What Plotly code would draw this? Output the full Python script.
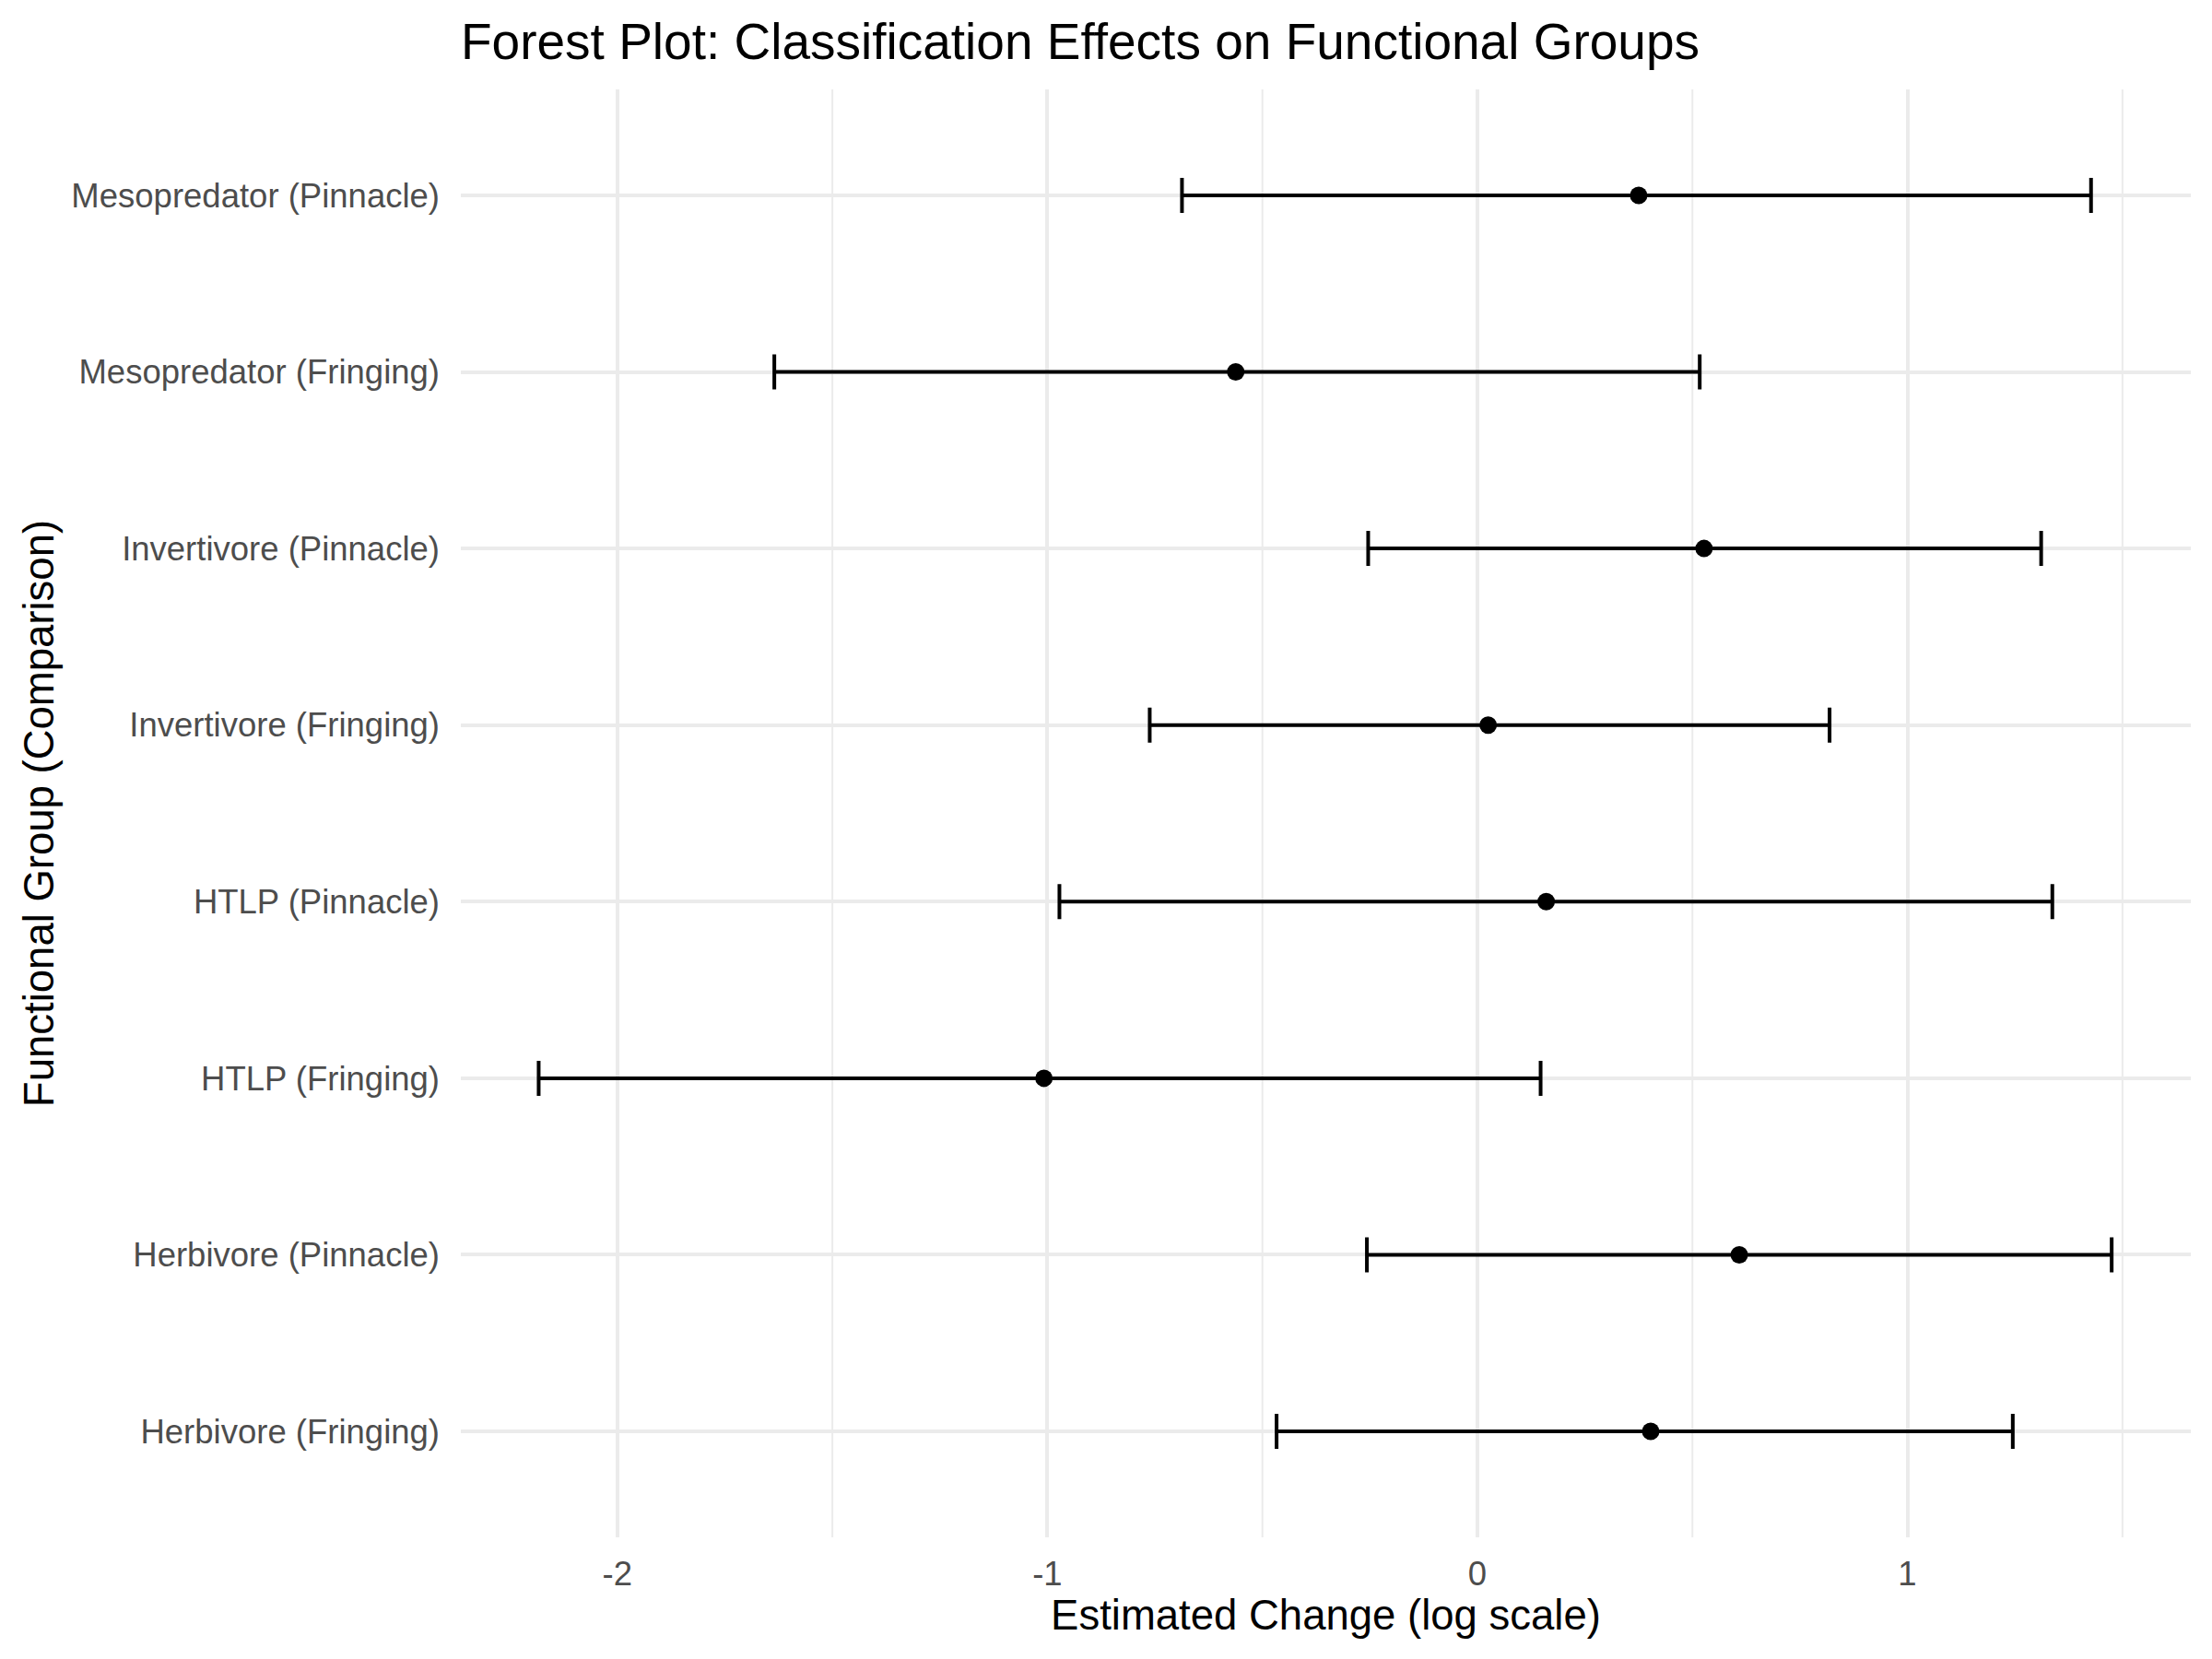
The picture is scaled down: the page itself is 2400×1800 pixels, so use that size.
import plotly.graph_objects as go

groups = [
    "Herbivore (Fringing)",
    "Herbivore (Pinnacle)",
    "HTLP (Fringing)",
    "HTLP (Pinnacle)",
    "Invertivore (Fringing)",
    "Invertivore (Pinnacle)",
    "Mesopredator (Fringing)",
    "Mesopredator (Pinnacle)",
]
estimate = [0.403, 0.609, -1.008, 0.160, 0.025, 0.527, -0.562, 0.375]
lower = [-0.467, -0.257, -2.183, -0.972, -0.762, -0.254, -1.635, -0.687]
upper = [1.245, 1.475, 0.147, 1.337, 0.819, 1.311, 0.517, 1.427]

x_ticks = [-2, -1, 0, 1]
x_tick_labels = ["-2", "-1", "0", "1"]

FONT = "Liberation Sans, Arial, Helvetica, sans-serif"

err_plus = [u - e for u, e in zip(upper, estimate)]
err_minus = [e - l for e, l in zip(estimate, lower)]
ypos = list(range(len(groups)))

fig = go.Figure()
fig.add_trace(go.Scatter(
    x=estimate, y=ypos, mode="markers",
    marker=dict(color="black", size=19),
    error_x=dict(type="data", symmetric=False, array=err_plus, arrayminus=err_minus,
                 color="black", thickness=4, width=19),
    showlegend=False,
))

# minor vertical gridlines
for v in [-1.5, -0.5, 0.5, 1.5]:
    fig.add_shape(type="line", xref="x", yref="paper", x0=v, x1=v, y0=0, y1=1,
                  line=dict(color="#EBEBEB", width=2), layer="below")

fig.update_layout(
    width=2400, height=1800,
    paper_bgcolor="white", plot_bgcolor="white",
    margin=dict(l=500, r=23, t=97, b=132),
    title=dict(text="Forest Plot: Classification Effects on Functional Groups",
               font=dict(family=FONT, size=55, color="black"),
               x=500 / 2400, xanchor="left", y=1 - 45 / 1800, yanchor="middle"),
    xaxis=dict(range=[-2.364, 1.659], tickvals=x_ticks, ticktext=x_tick_labels,
               showgrid=True, gridcolor="#EBEBEB", gridwidth=4, zeroline=False,
               showline=False, ticks="", ticklabelstandoff=14,
               tickfont=dict(family=FONT, size=36.5, color="#4D4D4D"),
               title=dict(text="Estimated Change (log scale)", standoff=8,
                          font=dict(family=FONT, size=45.5, color="black"))),
    yaxis=dict(range=[-0.6, 7.6], tickvals=ypos, ticktext=groups,
               showgrid=True, gridcolor="#EBEBEB", gridwidth=4, zeroline=False,
               showline=False, ticks="", ticklabelstandoff=22,
               tickfont=dict(family=FONT, size=36.5, color="#4D4D4D"),
               title=dict(text="Functional Group (Comparison)", standoff=4,
                          font=dict(family=FONT, size=45.5, color="black"))),
)

fig.write_html("out.html")
